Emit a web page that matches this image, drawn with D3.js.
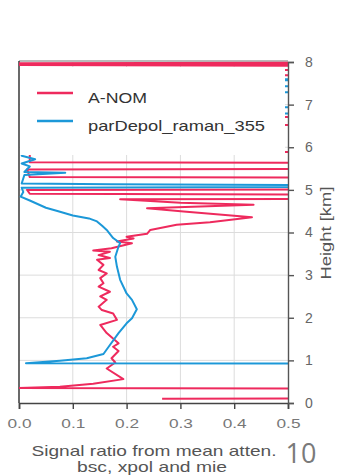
<!DOCTYPE html>
<html>
<head>
<meta charset="utf-8">
<script src="https://cdn.jsdelivr.net/npm/d3@7/dist/d3.min.js"></script>
<style>
  html, body { margin: 0; padding: 0; background: #fff; }
  svg { display: block; }
</style>
</head>
<body>
<script>
// Signal ratio profiles (value, height in km), listed along each trace
const anomRatio = [0.266, 0.9, 0.9, 0.0, 0.076, 0.138, 0.194, 0.163, 0.179, 0.172, 0.185, 0.175, 0.185, 0.163, 0.151, 0.182,
  0.175, 0.154, 0.148, 0.163, 0.151, 0.169, 0.148, 0.157, 0.151, 0.163, 0.148, 0.157, 0.145, 0.169, 0.148, 0.169, 0.138,
  0.172, 0.210, 0.182, 0.213, 0.200, 0.238, 0.244, 0.293, 0.355, 0.433, 0.306, 0.238, 0.436, 0.300, 0.188, 0.9,
  0.9, 0.02, 0.015, 0.9, 0.9, 0.02, 0.015, 0.9, 0.9, 0.02, 0.02, 0.9, 0.9, 0.02, 0.02, 0.9, 0.9, 0.02, 0.02, 0.9,
  0.9, 0.0, 0.9, 0.0, 0.9];
const anomHeight = [0.10, 0.12, 0.33, 0.35, 0.38, 0.45, 0.56, 0.81, 0.95, 1.05, 1.22, 1.32, 1.40, 1.64, 1.83, 1.95,
  2.10, 2.18, 2.26, 2.42, 2.50, 2.61, 2.73, 2.81, 2.93, 3.04, 3.12, 3.24, 3.36, 3.40, 3.47, 3.55, 3.58,
  3.63, 3.75, 3.79, 3.86, 3.90, 3.97, 4.06, 4.18, 4.24, 4.36, 4.49, 4.57, 4.65, 4.70, 4.78, 4.80,
  4.88, 4.91, 5.00, 5.02, 5.28, 5.30, 5.48, 5.50, 5.63, 5.65, 5.88, 5.90, 6.51, 6.53, 6.70, 6.72, 7.68, 7.70, 7.80, 7.82,
  7.90, 7.93, 7.95, 7.97, 7.99];

const depolRatio = [0.9, 0.013, 0.076, 0.126, 0.157, 0.169, 0.185, 0.200, 0.210, 0.219, 0.210, 0.200, 0.188, 0.182, 0.179,
  0.185, 0.188, 0.175, 0.163, 0.155, 0.145, 0.130, 0.100, 0.073, 0.050, 0.020, 0.003, 0.008, 0.005, 0.9, 0.9, 0.17, 0.005,
  0.01, 0.086, 0.01, 0.02, 0.005, 0.03, 0.005, 0.01, 0.9, 0.9, 0.01, 0.01, 0.9, 0.9, 0.01, 0.01, 0.9, 0.01];
const depolHeight = [0.92, 0.93, 0.99, 1.05, 1.15, 1.36, 1.64, 1.87, 1.99, 2.20, 2.42, 2.57, 2.89, 3.20, 3.43,
  3.67, 3.75, 3.87, 4.06, 4.15, 4.26, 4.33, 4.40, 4.50, 4.58, 4.75, 4.84, 4.95, 5.05, 5.08, 5.10, 5.13, 5.15,
  5.35, 5.40, 5.42, 5.55, 5.62, 5.72, 5.80, 6.78, 6.80, 6.93, 6.95, 7.28, 7.30, 7.42, 7.44, 7.56, 7.58, 7.62];

const seriesNames = ["A-NOM", "parDepol_raman_355"];
const seriesColors = ["#ee2a5d", "#1c98d8"];
const xTicks = [0.0, 0.1, 0.2, 0.3, 0.4, 0.5];
const yTicks = [0, 1, 2, 3, 4, 5, 6, 7, 8];

const W = 346, H = 476;
const pLeft = 19, pRight = 288, pTop = 62, pBottom = 403;

const svg = d3.select("body").append("svg").attr("width", W).attr("height", H);

const x = d3.scaleLinear().domain([0, 0.5]).range([pLeft, pRight]);
const y = d3.scaleLinear().domain([0, 8]).range([pBottom, pTop]);

// grid
const grid = svg.append("g");
grid.selectAll("line.gx").data(xTicks.slice(1, -1)).join("line")
  .attr("x1", d => x(d)).attr("x2", d => x(d)).attr("y1", pTop).attr("y2", pBottom)
  .attr("stroke", "#dcdcdc").attr("stroke-width", 1);
grid.selectAll("line.gy").data(yTicks.slice(1, -1)).join("line")
  .attr("x1", pLeft).attr("x2", pRight).attr("y1", d => y(d)).attr("y2", d => y(d))
  .attr("stroke", "#dcdcdc").attr("stroke-width", 1);

// frame
svg.append("line").attr("x1", pLeft).attr("x2", pRight).attr("y1", pTop - 1).attr("y2", pTop - 1)
  .attr("stroke", "#777").attr("stroke-width", 1.2);
svg.append("line").attr("x1", pLeft).attr("x2", pLeft).attr("y1", pTop - 1).attr("y2", pBottom)
  .attr("stroke", "#444").attr("stroke-width", 1.6);

// traces
svg.append("clipPath").attr("id", "plotclip").append("rect")
  .attr("x", pLeft).attr("y", pTop - 1).attr("width", pRight - pLeft).attr("height", pBottom - pTop + 1);

const line = d3.line().x(d => x(d[0])).y(d => y(d[1]));
const traces = [d3.zip(anomRatio, anomHeight), d3.zip(depolRatio, depolHeight)];
const plot = svg.append("g").attr("clip-path", "url(#plotclip)");
traces.forEach((pts, i) => {
  plot.append("path").datum(pts).attr("d", line)
    .attr("fill", "none").attr("stroke", seriesColors[i]).attr("stroke-width", 2)
    .attr("stroke-linejoin", "round");
});

// legend
const lg = svg.append("g");
lg.append("rect").attr("x", pLeft + 1).attr("y", 67).attr("width", 265).attr("height", 88).attr("fill", "#fff");
seriesNames.forEach((name, i) => {
  const ly = 93 + i * 28;
  lg.append("line").attr("x1", 37).attr("x2", 73).attr("y1", ly).attr("y2", ly)
    .attr("stroke", seriesColors[i]).attr("stroke-width", 2.5);
  lg.append("text").attr("x", 88).attr("y", ly + 9.5).text(name)
    .attr("font-family", "Liberation Sans, Arial, sans-serif").attr("font-size", 15)
    .attr("fill", "#333")
    .attr("textLength", i === 0 ? 59 : 177).attr("lengthAdjust", "spacingAndGlyphs");
});

// axes
const fontFam = "Liberation Sans, Arial, sans-serif";
const xAxis = svg.append("g").attr("transform", `translate(0,${pBottom})`)
  .call(d3.axisBottom(x).tickValues(xTicks).tickFormat(d3.format(".1f")).tickSize(6).tickPadding(10));
xAxis.select(".domain").attr("stroke", "#444").attr("stroke-width", 1.6);
xAxis.selectAll(".tick line").attr("stroke", "#444").attr("stroke-width", 1.4);
xAxis.selectAll(".tick text").attr("font-family", fontFam).attr("font-size", 13).attr("fill", "#777")
  .attr("textLength", 24).attr("lengthAdjust", "spacingAndGlyphs");

const yAxis = svg.append("g").attr("transform", `translate(${pRight},0)`)
  .call(d3.axisRight(y).tickValues(yTicks).tickSize(6).tickPadding(11));
yAxis.select(".domain").attr("stroke", "#555").attr("stroke-width", 1.4);
yAxis.selectAll(".tick line").attr("stroke", "#555").attr("stroke-width", 1.4);
yAxis.selectAll(".tick text").attr("font-family", fontFam).attr("font-size", 14).attr("fill", "#666");

// axis titles
svg.append("text").attr("transform", "translate(331,233) rotate(-90)")
  .attr("text-anchor", "middle").text("Height [km]")
  .attr("font-family", fontFam).attr("font-size", 15).attr("fill", "#555")
  .attr("textLength", 93).attr("lengthAdjust", "spacingAndGlyphs");

svg.append("text").attr("x", 154).attr("y", 456).attr("text-anchor", "middle")
  .text("Signal ratio from mean atten.")
  .attr("font-family", fontFam).attr("font-size", 15).attr("fill", "#555")
  .attr("textLength", 245).attr("lengthAdjust", "spacingAndGlyphs");
svg.append("text").attr("x", 152).attr("y", 472).attr("text-anchor", "middle")
  .text("bsc, xpol and mie")
  .attr("font-family", fontFam).attr("font-size", 15).attr("fill", "#555")
  .attr("textLength", 150).attr("lengthAdjust", "spacingAndGlyphs");

// page number
svg.append("text").attr("x", 301).attr("y", 463).attr("text-anchor", "middle").text("10")
  .attr("font-family", "Open Sans, sans-serif").attr("font-size", 27).attr("fill", "#7a7a7a");
</script>
</body>
</html>
